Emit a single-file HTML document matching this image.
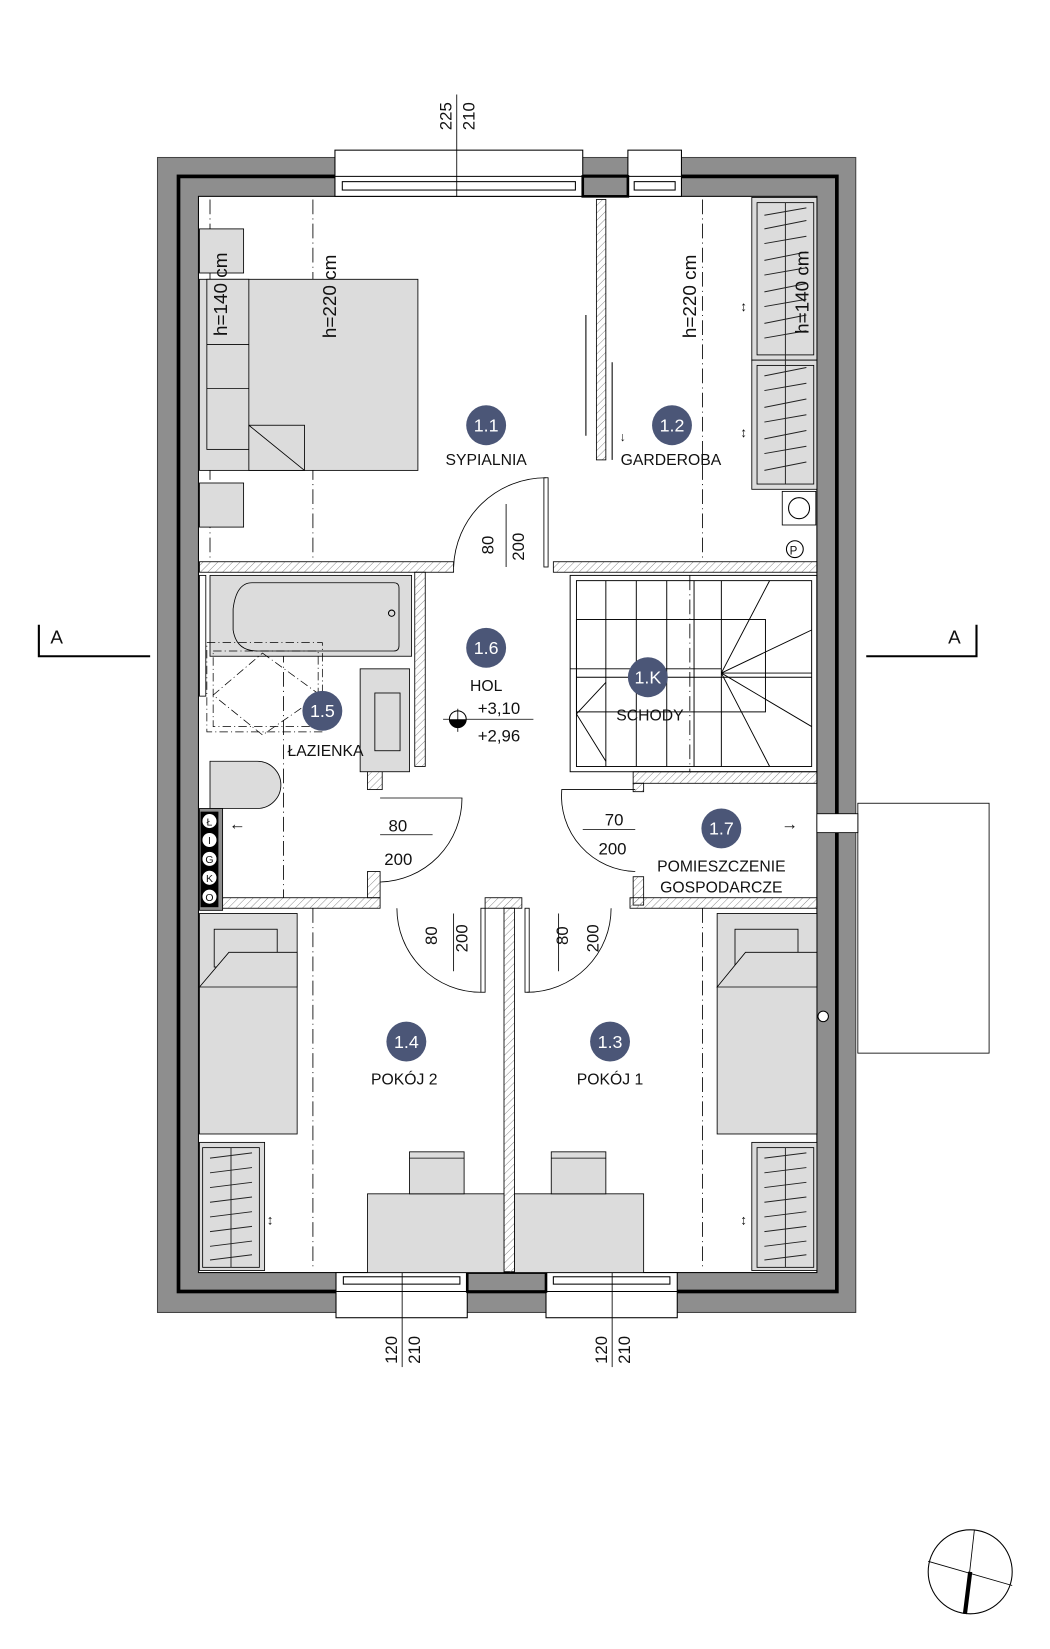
<!DOCTYPE html>
<html><head><meta charset="utf-8"><style>
html,body{margin:0;padding:0;background:#fff}
svg{display:block}
text{font-family:"Liberation Sans",sans-serif;fill:#111}
.lb{font-size:14px}
.nm{font-size:16px;fill:#fff}
</style></head><body>
<svg width="1050" height="1649" viewBox="0 0 1000 1570.5" xmlns="http://www.w3.org/2000/svg">
<defs>
<pattern id="h" width="5" height="5" patternUnits="userSpaceOnUse" patternTransform="rotate(45)"><line x1="0" y1="0" x2="0" y2="5" stroke="#777" stroke-width="0.8"/></pattern>
</defs>
<rect width="1000" height="1570.5" fill="#fff"/>
<!-- outer walls -->
<rect x="150" y="150" width="665" height="1100" fill="#8e8e8e" stroke="#444" stroke-width="1"/>
<rect x="170" y="168" width="627" height="1062" fill="none" stroke="#000" stroke-width="3.5"/>
<rect x="189" y="187" width="589" height="1025" fill="#fff" stroke="#000" stroke-width="1"/>
<!-- top windows -->
<rect x="319" y="143" width="236" height="44" fill="#fff" stroke="#000" stroke-width="1"/>
<line x1="319" y1="168" x2="555" y2="168" stroke="#000"/>
<rect x="326" y="173" width="222" height="8" fill="none" stroke="#000" stroke-width="1"/>
<rect x="598" y="143" width="51" height="44" fill="#fff" stroke="#000" stroke-width="1"/>
<line x1="598" y1="168" x2="649" y2="168" stroke="#000"/>
<rect x="604" y="173" width="39" height="8" fill="none" stroke="#000"/>
<rect x="555" y="168" width="43" height="19" fill="#8e8e8e" stroke="#000" stroke-width="2.5"/>
<!-- bottom windows -->
<rect x="320" y="1212" width="125" height="43" fill="#fff" stroke="#000"/>
<line x1="320" y1="1230" x2="445" y2="1230" stroke="#000"/>
<rect x="327" y="1216" width="111" height="7" fill="none" stroke="#000"/>
<rect x="520" y="1212" width="125" height="43" fill="#fff" stroke="#000"/>
<line x1="520" y1="1230" x2="645" y2="1230" stroke="#000"/>
<rect x="527" y="1216" width="111" height="7" fill="none" stroke="#000"/>
<rect x="445" y="1212" width="75" height="18" fill="#8e8e8e" stroke="#000" stroke-width="2.5"/>
<!-- dimension lines -->
<line x1="435" y1="90" x2="435" y2="187" stroke="#000" stroke-width="0.8"/>
<text transform="translate(430,124) rotate(-90)" font-size="16">225</text>
<text transform="translate(452,124) rotate(-90)" font-size="16">210</text>
<line x1="383" y1="1210" x2="383" y2="1302" stroke="#000" stroke-width="0.8"/>
<text transform="translate(378,1299) rotate(-90)" font-size="16">120</text>
<text transform="translate(400,1299) rotate(-90)" font-size="16">210</text>
<line x1="583" y1="1210" x2="583" y2="1302" stroke="#000" stroke-width="0.8"/>
<text transform="translate(578,1299) rotate(-90)" font-size="16">120</text>
<text transform="translate(600,1299) rotate(-90)" font-size="16">210</text>
<!-- dash-dot lines -->
<g stroke="#000" stroke-width="0.8" stroke-dasharray="14,4,1,4" fill="none">
<line x1="298" y1="190" x2="298" y2="535"/><line x1="669" y1="190" x2="669" y2="535"/>
<line x1="298" y1="865" x2="298" y2="1210"/><line x1="669" y1="865" x2="669" y2="1210"/>
<line x1="200" y1="190" x2="200" y2="535"/><line x1="270" y1="548" x2="270" y2="855"/>
<line x1="657" y1="548" x2="657" y2="735"/>
</g>
<!-- interior walls (hatched) -->
<g fill="url(#h)" stroke="#000" stroke-width="0.8">
<rect x="190" y="535" width="242" height="10"/>
<rect x="527" y="535" width="251" height="10"/>
<rect x="395" y="545" width="10" height="185"/>
<rect x="350" y="730" width="14" height="22"/>
<rect x="568" y="190" width="9" height="248"/>
<rect x="603" y="735" width="175" height="11"/>
<rect x="603" y="746" width="10" height="8"/>
<rect x="603" y="835" width="10" height="27"/>
<rect x="210" y="855" width="152" height="10"/>
<rect x="350" y="830" width="12" height="25"/>
<rect x="462" y="855" width="35" height="10"/>
<rect x="480" y="865" width="10" height="347"/>
<rect x="600" y="855" width="178" height="10"/>
</g>
<!-- sliding door lines -->
<line x1="558" y1="300" x2="558" y2="415" stroke="#000"/>
<line x1="583" y1="345" x2="583" y2="438" stroke="#000"/>
<text x="590" y="420" font-size="12">↓</text>
<!-- SYPIALNIA furniture -->
<g fill="#dcdcdc" stroke="#000" stroke-width="0.8">
<rect x="190" y="218" width="42" height="42"/>
<rect x="190" y="460" width="42" height="42"/>
<rect x="190" y="266" width="208" height="182"/>
<rect x="197" y="266" width="40" height="162"/>
<line x1="197" y1="328" x2="237" y2="328"/><line x1="197" y1="370" x2="237" y2="370"/>
<rect x="237" y="405" width="53" height="43"/>
</g>
<line x1="237" y1="405" x2="290" y2="448" stroke="#000" stroke-width="0.8"/>
<text transform="translate(216,320) rotate(-90)" font-size="18">h=140 cm</text>
<text transform="translate(320,322) rotate(-90)" font-size="18">h=220 cm</text>
<text transform="translate(663,322) rotate(-90)" font-size="18">h=220 cm</text>
<!-- wardrobes -->
<g fill="#dcdcdc" stroke="#000" stroke-width="0.8">
<rect x="716" y="188" width="62" height="155"/><rect x="721" y="193" width="54" height="145"/>
<rect x="716" y="343" width="62" height="123"/><rect x="721" y="348" width="54" height="113"/>
<rect x="716" y="1088" width="62" height="122"/><rect x="721" y="1093" width="54" height="114"/>
<rect x="190" y="1088" width="62" height="122"/><rect x="193" y="1093" width="54" height="114"/>
</g>
<g stroke="#222" stroke-width="0.9" fill="none">
<line x1="748" y1="193" x2="748" y2="461"/>
<line x1="748" y1="1093" x2="748" y2="1207"/>
<line x1="220" y1="1093" x2="220" y2="1207"/>
<path d="M728 205 L768 198 M728 218 L768 210 M728 232 L768 225 M728 248 L768 240 M728 262 L768 255 M728 278 L768 270 M728 292 L768 285 M728 308 L768 300 M728 322 L768 315 M728 358 L768 350 M728 372 L768 365 M728 388 L768 380 M728 402 L768 395 M728 418 L768 410 M728 432 L768 425 M728 448 L768 440"/>
<path d="M728 1103 L768 1098 M728 1117 L768 1112 M728 1131 L768 1126 M728 1145 L768 1140 M728 1159 L768 1154 M728 1173 L768 1168 M728 1187 L768 1182 M728 1200 L768 1195"/>
<path d="M200 1103 L240 1098 M200 1117 L240 1112 M200 1131 L240 1126 M200 1145 L240 1140 M200 1159 L240 1154 M200 1173 L240 1168 M200 1187 L240 1182 M200 1200 L240 1195"/>
</g>
<text transform="translate(770,318) rotate(-90)" font-size="18">h=140 cm</text>
<text x="705" y="296" font-size="13">↕</text><text x="705" y="416" font-size="13">↕</text>
<text x="705" y="1166" font-size="13">↕</text><text x="254" y="1166" font-size="13">↕</text>
<!-- washer / P -->
<rect x="745" y="468" width="32" height="32" fill="#fff" stroke="#000" stroke-width="0.8"/>
<circle cx="761" cy="484" r="10" fill="none" stroke="#000"/>
<circle cx="757" cy="523" r="8" fill="#fff" stroke="#000"/>
<text x="752" y="528" font-size="11">P</text>
<!-- doors -->
<g stroke="#000" stroke-width="0.8" fill="none">
<path d="M432 540 A88 88 0 0 1 520 455"/><rect x="518" y="455" width="4" height="85"/>
<line x1="482" y1="480" x2="482" y2="540"/>
<path d="M362 760 L440 760 A80 80 0 0 1 362 840"/><line x1="362" y1="795" x2="412" y2="795"/>
<path d="M605 752 L535 752 A72 72 0 0 0 605 830"/><line x1="555" y1="790" x2="605" y2="790"/>
<path d="M378 865 A80 80 0 0 0 458 945"/><rect x="458" y="865" width="4" height="80"/>
<line x1="432" y1="870" x2="432" y2="925"/>
<path d="M582 865 A80 80 0 0 1 502 945"/><rect x="500" y="865" width="4" height="80"/>
<line x1="532" y1="870" x2="532" y2="925"/>
</g>
<text transform="translate(470,528) rotate(-90)" font-size="16">80</text>
<text transform="translate(499,534) rotate(-90)" font-size="16">200</text>
<text x="370" y="792" font-size="16">80</text><text x="366" y="824" font-size="16">200</text>
<text x="576" y="786" font-size="16">70</text><text x="570" y="814" font-size="16">200</text>
<text transform="translate(416,900) rotate(-90)" font-size="16">80</text>
<text transform="translate(445,907) rotate(-90)" font-size="16">200</text>
<text transform="translate(541,900) rotate(-90)" font-size="16">80</text>
<text transform="translate(570,907) rotate(-90)" font-size="16">200</text>
<!-- bathroom -->
<g fill="#dcdcdc" stroke="#000" stroke-width="0.8">
<rect x="200" y="548" width="192" height="77"/>
<path d="M240 555 L375 555 Q380 555 380 560 L380 615 Q380 620 375 620 L245 620 Q225 620 222 600 L222 580 Q225 555 240 555Z"/>
<rect x="343" y="637" width="47" height="98"/>
<rect x="357" y="660" width="24" height="55"/>
<path d="M200 725 L245 725 A22 22 0 0 1 245 770 L200 770Z"/>
<rect x="190" y="548" width="6" height="115" fill="#fff"/>
</g>
<g fill="none" stroke="#000" stroke-width="0.7" stroke-dasharray="8,3,1,3">
<rect x="197" y="612" width="110" height="85"/><rect x="203" y="620" width="100" height="72"/>
<path d="M250 622 L305 662 L250 700 L203 662Z"/>
</g>
<circle cx="373" cy="584" r="3" fill="none" stroke="#000"/>
<!-- installations strip -->
<rect x="190" y="770" width="22" height="97" fill="#8e8e8e" stroke="#000" stroke-width="0.8"/>
<rect x="191" y="773" width="17" height="91" fill="#000"/>
<g fill="#fff" stroke="#000" stroke-width="0.6">
<circle cx="199.5" cy="782" r="7"/><circle cx="199.5" cy="800" r="7"/><circle cx="199.5" cy="818" r="7"/><circle cx="199.5" cy="836" r="7"/><circle cx="199.5" cy="854" r="7"/>
</g>
<g font-size="10" text-anchor="middle"><text x="199.5" y="786">Ł</text><text x="199.5" y="804">I</text><text x="199.5" y="822">G</text><text x="199.5" y="840">K</text><text x="199.5" y="858">O</text></g>
<text x="218" y="790" font-size="16">←</text>
<text x="744" y="790" font-size="16">→</text>
<!-- stairs -->
<g fill="none" stroke="#000" stroke-width="0.9">
<rect x="543" y="548" width="235" height="187"/>
<rect x="549" y="553" width="224" height="177"/>
<line x1="543" y1="637" x2="687" y2="637"/>
<line x1="549" y1="645" x2="773" y2="645"/>
<rect x="549" y="590" width="180" height="88"/>
<line x1="577" y1="553" x2="577" y2="730"/><line x1="606" y1="553" x2="606" y2="730"/>
<line x1="635" y1="553" x2="635" y2="730"/><line x1="661" y1="553" x2="661" y2="730"/><line x1="687" y1="553" x2="687" y2="730"/>
<path d="M687 641 L733 553 M687 641 L773 600 M687 641 L773 641 M687 641 L773 692 M687 641 L733 730"/>
<path d="M577 650 L549 680 L577 725"/>
</g>
<!-- balcony -->
<rect x="817" y="765" width="125" height="238" fill="none" stroke="#000" stroke-width="0.8"/>
<rect x="778" y="775" width="39" height="18" fill="#fff" stroke="#000" stroke-width="0.8"/>
<circle cx="784" cy="968" r="5" fill="#fff" stroke="#000"/>
<!-- room furniture -->
<g fill="#dcdcdc" stroke="#000" stroke-width="0.8">
<rect x="190" y="870" width="93" height="210"/><rect x="204" y="885" width="60" height="36"/><path d="M190 940 L218 907 L283 907 L283 940Z"/>
<rect x="683" y="870" width="95" height="210"/><rect x="700" y="885" width="60" height="36"/><path d="M683 940 L710 907 L778 907 L778 940Z"/>
<rect x="350" y="1137" width="130" height="75"/><rect x="490" y="1137" width="123" height="75"/>
<rect x="390" y="1097" width="52" height="40"/><rect x="525" y="1097" width="52" height="40"/>
<line x1="390" y1="1103" x2="442" y2="1103"/><line x1="525" y1="1103" x2="577" y2="1103"/>
</g>
<!-- room badges -->
<g fill="#4b5677">
<circle cx="463" cy="405" r="19"/><circle cx="640" cy="405" r="19"/><circle cx="463" cy="617" r="19"/><circle cx="617" cy="645" r="19"/><circle cx="307" cy="677" r="19"/><circle cx="687" cy="789" r="19"/><circle cx="387" cy="992" r="19"/><circle cx="581" cy="992" r="19"/>
</g>
<g text-anchor="middle" font-size="17">
<text x="463" y="411" style="fill:#fff">1.1</text><text x="640" y="411" style="fill:#fff">1.2</text><text x="463" y="623" style="fill:#fff">1.6</text><text x="617" y="651" style="fill:#fff">1.K</text><text x="307" y="683" style="fill:#fff">1.5</text><text x="687" y="795" style="fill:#fff">1.7</text><text x="387" y="998" style="fill:#fff">1.4</text><text x="581" y="998" style="fill:#fff">1.3</text>
</g>
<g text-anchor="middle" font-size="15">
<text x="463" y="443">SYPIALNIA</text><text x="639" y="443">GARDEROBA</text>
<text x="463" y="658">HOL</text><text x="619" y="686">SCHODY</text><text x="310" y="720">ŁAZIENKA</text>
<text x="687" y="830">POMIESZCZENIE</text><text x="687" y="850">GOSPODARCZE</text>
<text x="385" y="1033">POKÓJ 2</text><text x="581" y="1033">POKÓJ 1</text>
</g>
<text x="455" y="680" font-size="16">+3,10</text><text x="455" y="706" font-size="16">+2,96</text>
<line x1="422" y1="685" x2="508" y2="685" stroke="#000" stroke-width="0.8"/>
<circle cx="436" cy="685" r="8" fill="#fff" stroke="#000"/>
<path d="M428 685 A8 8 0 0 0 444 685Z" fill="#000"/>
<line x1="436" y1="675" x2="436" y2="697" stroke="#000" stroke-width="0.8"/>
<!-- section markers -->
<path d="M37 595 L37 625 L143 625" fill="none" stroke="#000" stroke-width="2"/>
<text x="48" y="613" font-size="18">A</text>
<path d="M930 595 L930 625 L825 625" fill="none" stroke="#000" stroke-width="2"/>
<text x="903" y="613" font-size="18">A</text>
<!-- north arrow -->
<circle cx="924" cy="1497" r="40" fill="none" stroke="#000" stroke-width="1"/>
<line x1="928" y1="1457" x2="919" y2="1537" stroke="#000" stroke-width="0.8"/>
<line x1="884" y1="1487" x2="964" y2="1510" stroke="#000" stroke-width="0.8"/>
<line x1="924" y1="1497" x2="919" y2="1537" stroke="#000" stroke-width="4"/>
</svg>
</body></html>
